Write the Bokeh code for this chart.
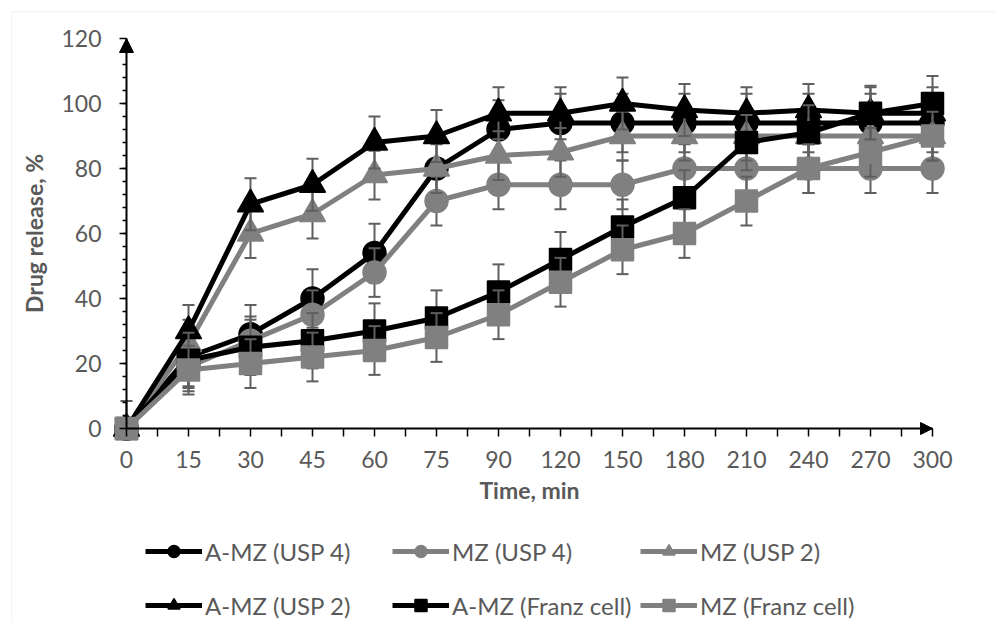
from bokeh.plotting import figure
from bokeh.models import (Range1d, FixedTicker, Arrow, NormalHead, Legend,
                          LegendItem, BoxAnnotation)
from bokeh.embed import file_html
from bokeh.resources import INLINE

# ---- data ----
times = ["0", "15", "30", "45", "60", "75", "90", "120", "150", "180", "210", "240", "270", "300"]

series_names = ["A-MZ (USP 4)", "MZ (USP 4)", "MZ (USP 2)", "A-MZ (USP 2)",
                "A-MZ (Franz cell)", "MZ (Franz cell)"]

amz_usp4 = [0, 22, 29, 40, 54, 80, 92, 94, 94, 94, 94, 94, 94, 94]
mz_usp4 = [0, 19, 27, 35, 48, 70, 75, 75, 75, 80, 80, 80, 80, 80]
mz_usp2 = [0, 26, 60, 66, 78, 80, 84, 85, 90, 90, 90, 90, 90, 90]
amz_usp2 = [0, 30, 69, 75, 88, 90, 97, 97, 100, 98, 97, 98, 97, 97]
amz_franz = [0, 21, 25, 27, 30, 34, 42, 52, 62, 71, 88, 91, 97, 100]
mz_franz = [0, 18, 20, 22, 24, 28, 35, 45, 55, 60, 70, 80, 85, 90]

err_amz_usp4 = [0, 9, 9, 9, 9, 9, 9, 9, 9, 9, 9, 9, 9, 9]
err_mz_usp4 = [0, 7.5, 7.5, 7.5, 7.5, 7.5, 7.5, 7.5, 7.5, 7.5, 7.5, 7.5, 7.5, 7.5]
err_mz_usp2 = [0, 7.5, 7.5, 7.5, 7.5, 7.5, 7.5, 7.5, 7.5, 7.5, 7.5, 7.5, 7.5, 7.5]
err_amz_usp2 = [0, 8, 8, 8, 8, 8, 8, 8, 8, 8, 8, 8, 8, 8]
err_amz_franz = [8.5, 8.5, 8.5, 8.5, 8.5, 8.5, 8.5, 8.5, 8.5, 8.5, 8.5, 8.5, 8.5, 8.5]
err_mz_franz = [0, 7.5, 7.5, 7.5, 7.5, 7.5, 7.5, 7.5, 7.5, 7.5, 7.5, 7.5, 7.5, 7.5]

y_ticks = [0, 20, 40, 60, 80, 100, 120]

# ---- styling ----
FONT = "Lato"
TXT = "#595959"
BLACK = "#000000"
GRAY = "#808080"
ERRC = "#5f5f5f"

values = [amz_usp4, mz_usp4, mz_usp2, amz_usp2, amz_franz, mz_franz]
errors = [err_amz_usp4, err_mz_usp4, err_mz_usp2, err_amz_usp2, err_amz_franz, err_mz_franz]
colors = [BLACK, GRAY, GRAY, BLACK, BLACK, GRAY]
markers = ["circle", "circle", "triangle", "triangle", "square", "square"]
msizes = [23, 23, 26, 26, 22, 22]

# page geometry (figure sits at page 0,0)
SX = 62.0          # px per category step
SY = 3.25          # px per % unit
ORIGIN_X = 126     # page x of category "0"
ORIGIN_Y = 428     # page y of value 0
FL, FT, FW, FH = 10, 10, 985, 612   # frame left, top, width, height

x_start = (FL - ORIGIN_X) / SX
y_start = (ORIGIN_Y - (FT + FH)) / SY
p = figure(frame_width=FW, frame_height=FH,
           x_range=Range1d(x_start, x_start + FW / SX),
           y_range=Range1d(y_start, y_start + FH / SY),
           output_backend="svg", toolbar_location=None,
           min_border_left=FL, min_border_right=5,
           min_border_top=FT, min_border_bottom=6)
p.xgrid.visible = False
p.ygrid.visible = False
p.outline_line_color = None
p.background_fill_color = "white"
p.border_fill_color = "white"

idx = list(range(len(times)))

legend_items = []
for name, vals, errs, col, mk, ms in zip(series_names, values, errors, colors, markers, msizes):
    lo = [max(v - e, 0) for v, e in zip(vals, errs)]
    hi = [v + e for v, e in zip(vals, errs)]
    p.segment(x0=idx, y0=lo, x1=idx, y1=hi, line_color=ERRC, line_width=2)
    p.scatter(x=idx, y=hi, marker="dash", size=12, line_color=ERRC, line_width=2)
    p.scatter(x=idx, y=lo, marker="dash", size=12, line_color=ERRC, line_width=2)
    lr = p.line(x=idx, y=vals, line_color=col, line_width=5)
    sr = p.scatter(x=idx, y=vals, marker=mk, size=ms, fill_color=col,
                   line_color=col, line_width=1.5)
    legend_items.append(LegendItem(label=name, renderers=[lr, sr]))

# ---- axes (drawn at data 0, inside the frame) ----
xa = p.xaxis[0]
xa.fixed_location = 0
xa.bounds = (0, len(times) - 1)
xa.ticker = FixedTicker(ticks=idx, minor_ticks=[i + 0.5 for i in idx[:-1]])
xa.major_label_overrides = {i: t for i, t in enumerate(times)}
xa.axis_label = "Time, min"

ya = p.yaxis[0]
ya.fixed_location = 0
ya.bounds = (0, 120)
ya.ticker = FixedTicker(ticks=y_ticks, minor_ticks=list(range(4, 120, 4)))
ya.axis_label = "Drug release, %"

for ax in (xa, ya):
    ax.axis_line_color = BLACK
    ax.axis_line_width = 2
    ax.major_tick_line_color = BLACK
    ax.minor_tick_line_color = BLACK
    ax.major_tick_line_width = 1.5
    ax.minor_tick_line_width = 1.5
    ax.major_tick_in = 0
    ax.minor_tick_in = 0
    ax.major_label_text_font = FONT
    ax.major_label_text_font_size = "23px"
    ax.major_label_text_color = TXT
    ax.axis_label_text_font = FONT
    ax.axis_label_text_font_size = "23px"
    ax.axis_label_text_font_style = "bold"
    ax.axis_label_text_color = TXT

xa.major_tick_out = 8
xa.minor_tick_out = 8
xa.major_label_standoff = 14
xa.axis_label_standoff = 5
ya.major_tick_out = 7
ya.minor_tick_out = 4
ya.major_label_standoff = 18
ya.axis_label_standoff = 10

# arrow heads at the ends of the axes
p.add_layout(Arrow(end=NormalHead(size=14, fill_color=BLACK, line_color=BLACK),
                   x_start=0, y_start=110, x_end=0, y_end=120, line_alpha=0))
p.add_layout(Arrow(end=NormalHead(size=12, fill_color=BLACK, line_color=BLACK),
                   x_start=12.5, y_start=0, x_end=len(times) - 1, y_end=0, line_alpha=0))

# ---- legend (6 single-item legends laid out like the original) ----
col_x = [145, 392, 640]
row_c = [551, 605]
for k, item in enumerate(legend_items):
    r, c = divmod(k, 3)
    lx = col_x[c] - FL
    ly = (FT + FH) - (row_c[r] + 15)
    leg = Legend(items=[item], location=(lx, ly), orientation="horizontal",
                 glyph_width=57, glyph_height=30, label_height=30,
                 label_standoff=3, padding=0, margin=0, spacing=0,
                 border_line_alpha=0, background_fill_alpha=0,
                 label_text_font=FONT, label_text_font_size="24px",
                 label_text_color=TXT, label_text_baseline="middle")
    p.add_layout(leg)

# ---- light outer border (top and left visible) ----
box = BoxAnnotation(left=11, right=3000, top=11, bottom=3000,
                    left_units="canvas", right_units="canvas",
                    top_units="canvas", bottom_units="canvas",
                    fill_alpha=0, line_color="#d9d9d9", line_width=1.5)
p.add_layout(box)

open("out.html", "w").write(file_html(p, INLINE))
